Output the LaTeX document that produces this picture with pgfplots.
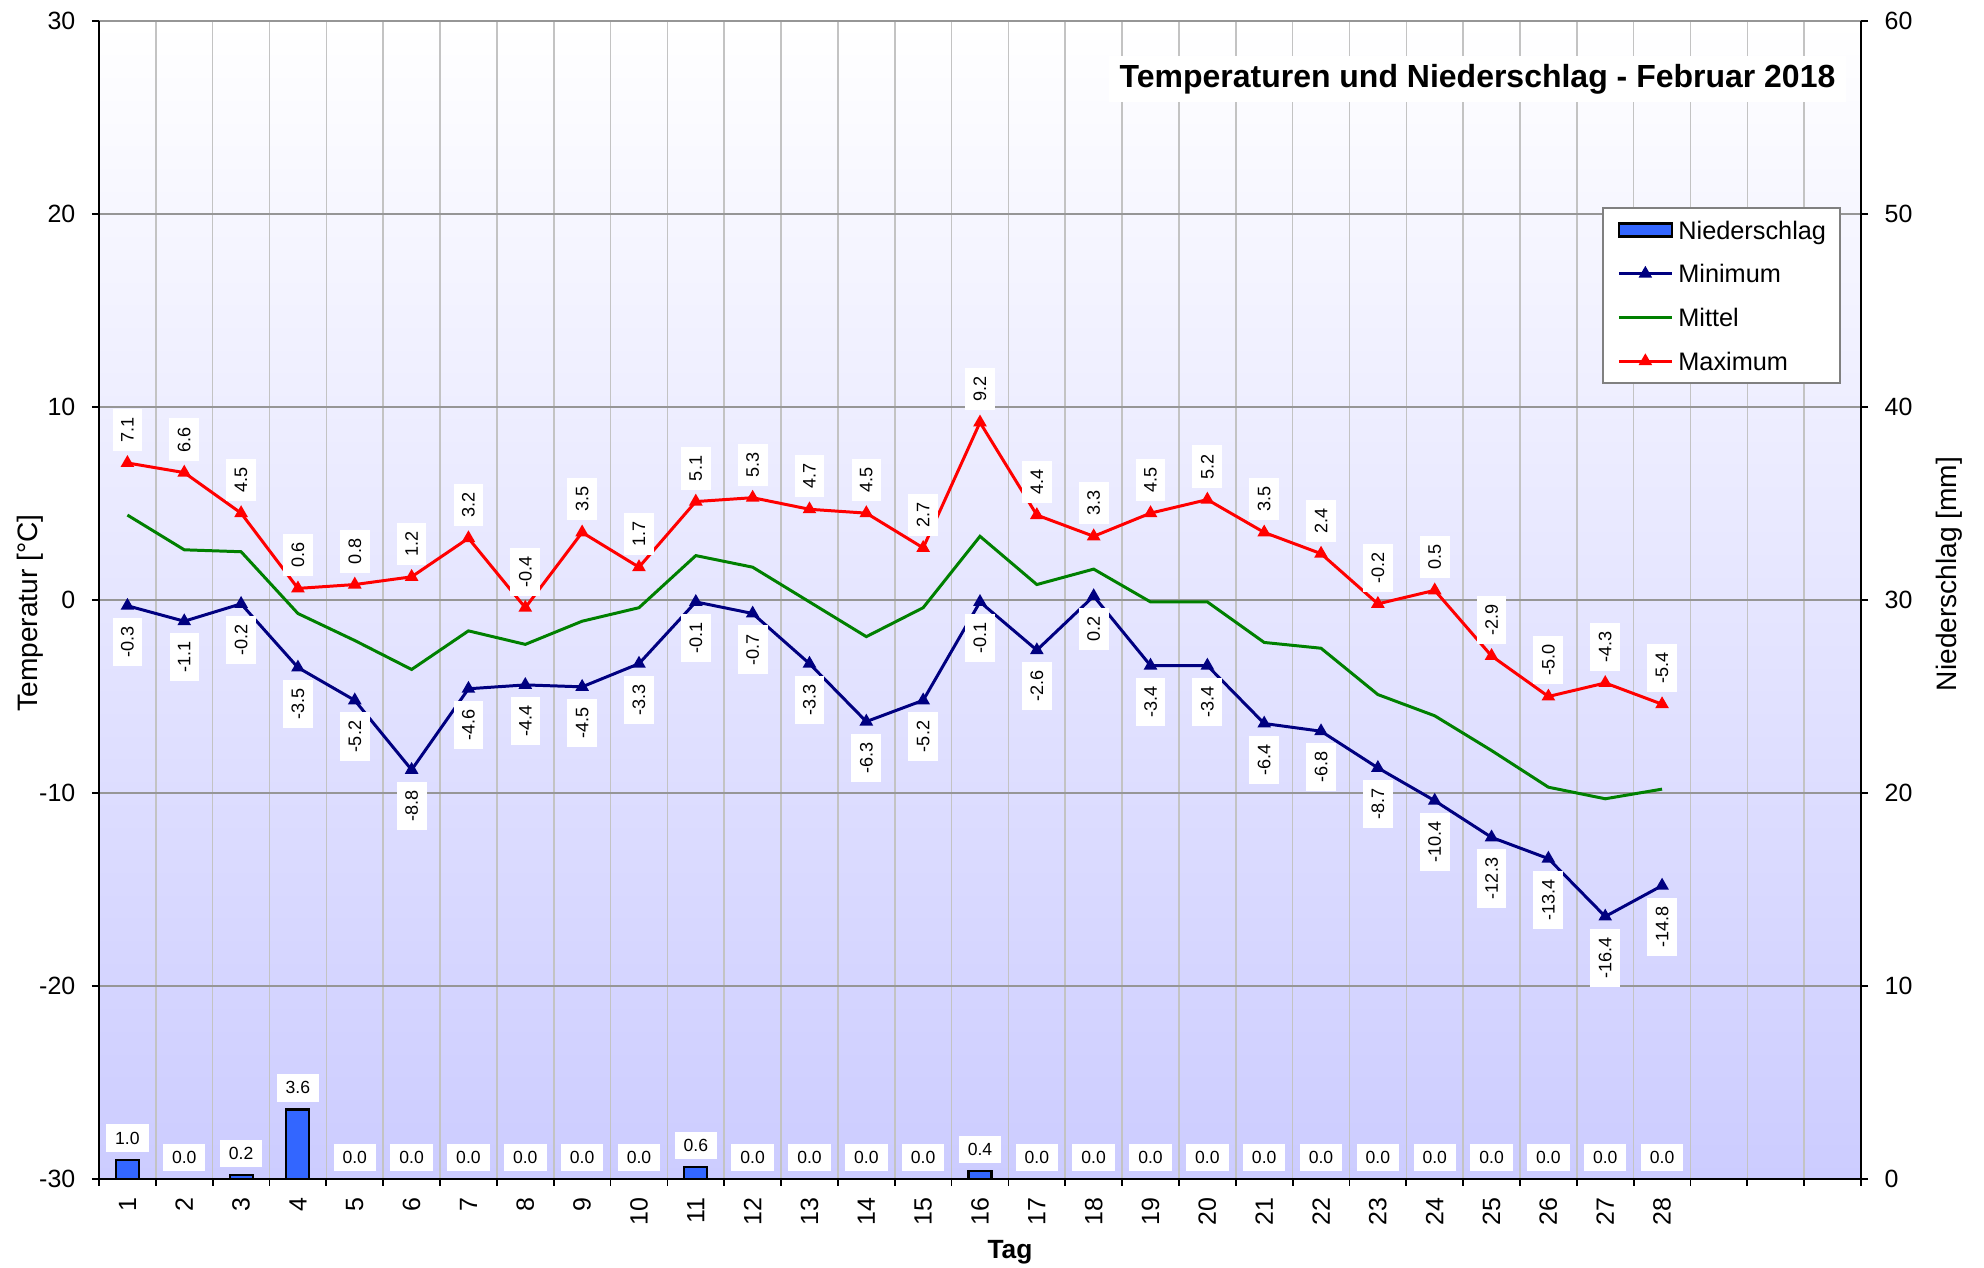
\documentclass[border=0pt]{standalone}
\usepackage{pgfplots}
\usepackage{pgfplotstable}
\pgfplotsset{compat=1.18}
\usepackage{fontspec}
\setmainfont{Liberation Sans}
\definecolor{bgb}{RGB}{204,204,255}
\definecolor{barblue}{RGB}{51,102,255}
\definecolor{minc}{RGB}{0,0,128}
\definecolor{midc}{RGB}{0,128,0}
\definecolor{maxc}{RGB}{255,0,0}
\definecolor{vgrid}{RGB}{195,195,195}
\definecolor{hgrid}{RGB}{150,150,150}
\definecolor{legbd}{RGB}{128,128,128}

\pgfplotstableread{
day max min mid rain
1 7.1 -0.3 4.4 1.0
2 6.6 -1.1 2.6 0.0
3 4.5 -0.2 2.5 0.2
4 0.6 -3.5 -0.7 3.6
5 0.8 -5.2 -2.1 0.0
6 1.2 -8.8 -3.6 0.0
7 3.2 -4.6 -1.6 0.0
8 -0.4 -4.4 -2.3 0.0
9 3.5 -4.5 -1.1 0.0
10 1.7 -3.3 -0.4 0.0
11 5.1 -0.1 2.3 0.6
12 5.3 -0.7 1.7 0.0
13 4.7 -3.3 -0.1 0.0
14 4.5 -6.3 -1.9 0.0
15 2.7 -5.2 -0.4 0.0
16 9.2 -0.1 3.3 0.4
17 4.4 -2.6 0.8 0.0
18 3.3 0.2 1.6 0.0
19 4.5 -3.4 -0.1 0.0
20 5.2 -3.4 -0.1 0.0
21 3.5 -6.4 -2.2 0.0
22 2.4 -6.8 -2.5 0.0
23 -0.2 -8.7 -4.9 0.0
24 0.5 -10.4 -6.0 0.0
25 -2.9 -12.3 -7.8 0.0
26 -5.0 -13.4 -9.7 0.0
27 -4.3 -16.4 -10.3 0.0
28 -5.4 -14.8 -9.8 0.0
}\data

\pgfplotsset{
  legend image code/.code={\draw[mark repeat=2,mark phase=2,#1] plot coordinates {(0cm,0cm) (0.265cm,0cm) (0.53cm,0cm)};},
  barlegend/.style={legend image code/.code={\draw[##1] (0cm,-0.065cm) rectangle (0.53cm,0.065cm);}},
  templabel/.style={draw=none, mark=none, forget plot, point meta=y,
    nodes near coords={\pgfmathprintnumber[fixed,fixed zerofill,precision=1,assume math mode=true]{\pgfplotspointmeta}},
    every node near coord/.append style={rotate=90, fill=white, text=black, inner sep=0.085cm,
      outer xsep=0.12cm, font=\fontsize{5.15}{6}\selectfont, anchor=#1}},
}

\begin{document}
\begin{tikzpicture}
\useasboundingbox (0,0) rectangle (19.84cm,12.68cm);
\begin{axis}[
  at={(0.99cm,0.89cm)}, anchor=south west,
  scale only axis, width=17.62cm, height=11.58cm,
  xmin=0.5, xmax=31.5, ymin=-30, ymax=30,
  axis x line*=bottom, axis y line*=left,
  axis line style={black, line width=0.6pt},
  axis background/.style={top color=white, bottom color=bgb},
  xtick={0.5,1.5,...,31.5}, xticklabels={},
  extra x ticks={1,...,28},
  extra x tick labels={1,2,3,4,5,6,7,8,9,10,11,12,13,14,15,16,17,18,19,20,21,22,23,24,25,26,27,28},
  extra x tick style={grid=none, major tick length=0pt,
    tick label style={yshift=-0.18cm, rotate=90, anchor=east, inner sep=0pt}},
  ytick={-30,-20,...,30},
  grid=major,
  x grid style={vgrid, line width=0.45pt},
  y grid style={hgrid, line width=0.55pt},
  tick align=outside, major tick length=0.07cm,
  tick style={black, line width=0.5pt},
  tick label style={font=\fontsize{7.1}{8}\selectfont},
  yticklabel style={inner sep=0pt, xshift=-0.16cm},
  /pgf/number format/assume math mode=true,
  ylabel={Temperatur [°C]},
  ylabel style={at={(axis description cs:-0.0392,0.4888)}, anchor=center, font=\fontsize{8}{9}\selectfont},
  xlabel={Tag},
  xlabel style={at={(axis description cs:0.517,-0.063)}, anchor=center, font=\bfseries\fontsize{7.5}{9}\selectfont},
  title={Temperaturen und Niederschlag - Februar 2018},
  every axis title shift=0pt,
  title style={at={(axis description cs:0.9921,0.9500)}, anchor=east, fill=white,
    inner xsep=0.11cm, inner ysep=0.08cm, font=\bfseries\fontsize{9.1}{10}\selectfont},
  legend style={at={(0.9886,0.8394)}, anchor=north east, draw=legbd, line width=0.5pt,
    fill=white, font=\fontsize{7.2}{8}\selectfont, inner xsep=0.14cm, inner ysep=0.06cm,
    row sep=0.114cm, column sep=0.05cm,
    nodes={inner sep=0pt, text height=0.72em, text depth=0.2em}},
  legend cell align=left,
]
\addlegendimage{barlegend, fill=barblue, draw=black, line width=0.6pt}
\addlegendentry{Niederschlag}
\addlegendimage{minc, line width=0.85pt, mark=triangle*, mark size=1.4pt}
\addlegendentry{Minimum}
\addlegendimage{midc, line width=0.85pt}
\addlegendentry{Mittel}
\addlegendimage{maxc, line width=0.85pt, mark=triangle*, mark size=1.4pt}
\addlegendentry{Maximum}

\addplot[forget plot, midc, line width=0.85pt, mark=none] table[x=day, y=mid] {\data};
\addplot[forget plot, minc, line width=0.85pt, mark=triangle*, mark size=1.4pt] table[x=day, y=min] {\data};
\addplot[forget plot, maxc, line width=0.85pt, mark=triangle*, mark size=1.4pt] table[x=day, y=max] {\data};

\addplot[templabel=east] table[x=day, y=min] {\data};
\addplot[templabel=west] table[x=day, y=max] {\data};
\end{axis}

\begin{axis}[
  at={(0.99cm,0.89cm)}, anchor=south west,
  scale only axis, width=17.62cm, height=11.58cm,
  xmin=0.5, xmax=31.5, ymin=0, ymax=60,
  axis x line=none, axis y line*=right,
  axis line style={black, line width=0.6pt},
  ytick={0,10,...,60},
  tick align=outside, major tick length=0.07cm,
  tick style={black, line width=0.5pt},
  tick label style={font=\fontsize{7.1}{8}\selectfont},
  yticklabel style={inner sep=0pt, xshift=0.16cm},
  /pgf/number format/assume math mode=true,
  ylabel={Niederschlag [mm]},
  ylabel style={at={(axis description cs:1.0502,0.5225)}, anchor=center, font=\fontsize{8}{9}\selectfont},
]
\addplot[ybar, bar width=0.23cm, fill=barblue, draw=black, line width=0.6pt,
  point meta=y,
  nodes near coords={\pgfmathprintnumber[fixed,fixed zerofill,precision=1,assume math mode=true]{\pgfplotspointmeta}},
  every node near coord/.append style={anchor=south, fill=white, text=black, inner xsep=0.09cm, inner ysep=0.075cm,
    outer ysep=0.08cm, font=\fontsize{5}{6}\selectfont}]
  table[x=day, y=rain] {\data};
\end{axis}
\end{tikzpicture}
\end{document}
